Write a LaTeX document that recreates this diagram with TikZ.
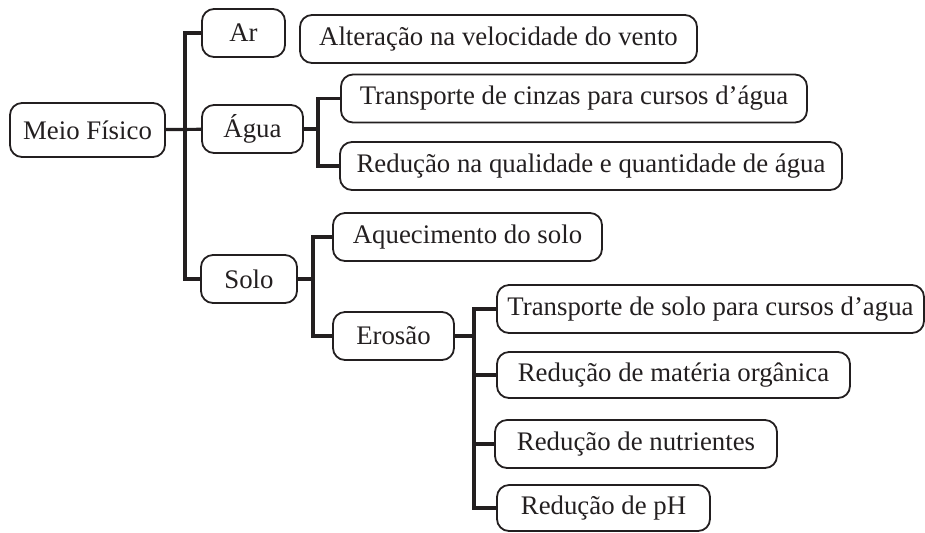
\documentclass[tikz,border=0pt]{standalone}
\usepackage{fontspec}
\setmainfont{Liberation Serif}
\definecolor{ink}{HTML}{231F20}

\begin{document}
\begin{tikzpicture}[x=0.5pt,y=-0.5pt,
  box/.style={draw=ink,text=ink,line width=0.9pt,rounded corners=6pt,
              minimum height=24pt,inner sep=0pt,font=\fontsize{13.4}{15}\selectfont},
  link/.style={draw=ink,line width=1.6pt}]
\useasboundingbox (0,0) rectangle (925,532);

% left column
\node[box,minimum width=77.5pt,minimum height=27pt] (meio) at (87.5,130) {Meio Físico};
\node[box,minimum width=41.5pt] (ar)   at (243.5,33)  {Ar};
\node[box,minimum width=50.5pt] (agua) at (252.5,129) {Água};
\node[box,minimum width=48pt]   (solo) at (249,279)   {Solo};

% middle column
\node[box,minimum width=198.5pt](vento)     at (498.5,39)  {Alteração na velocidade do vento};
\node[box,minimum width=233pt]  (cinzas)    at (574,98.5)  {Transporte de cinzas para cursos d’água};
\node[box,minimum width=251pt]  (qualidade) at (591,166)   {Redução na qualidade e quantidade de água};
\node[box,minimum width=134.5pt](aquec)     at (467.5,237) {Aquecimento do solo};
\node[box,minimum width=60.5pt] (erosao)    at (393.5,336) {Erosão};

% right column
\node[box,minimum width=213.5pt](tsolo)   at (710.5,309) {Transporte de solo para cursos d’agua};
\node[box,minimum width=176.5pt,minimum height=23pt](materia) at (673.5,375) {Redução de matéria orgânica};
\node[box,minimum width=141pt]  (nutri)   at (636,444)   {Redução de nutrientes};
\node[box,minimum width=106.5pt,minimum height=23pt](ph) at (603.5,508) {Redução de pH};

% junctions
\coordinate (j1) at (185,130);
\coordinate (j2) at (318,129);
\coordinate (j3) at (313,279);
\coordinate (j4) at (474,336);

\draw[link] (meio) -- (agua);
\draw[link] (j1) |- (ar.west);
\draw[link] (j1) |- (solo.west);

\draw[link] (agua) -- (j2);
\draw[link] (j2) |- (cinzas.west);
\draw[link] (j2) |- (qualidade.west);

\draw[link] (solo) -- (j3);
\draw[link] (j3) |- (aquec.west);
\draw[link] (j3) |- (erosao.west);

\draw[link] (erosao) -- (j4);
\foreach \n in {tsolo,materia,nutri,ph}
  \draw[link] (j4) |- (\n.west);
\end{tikzpicture}
\end{document}
